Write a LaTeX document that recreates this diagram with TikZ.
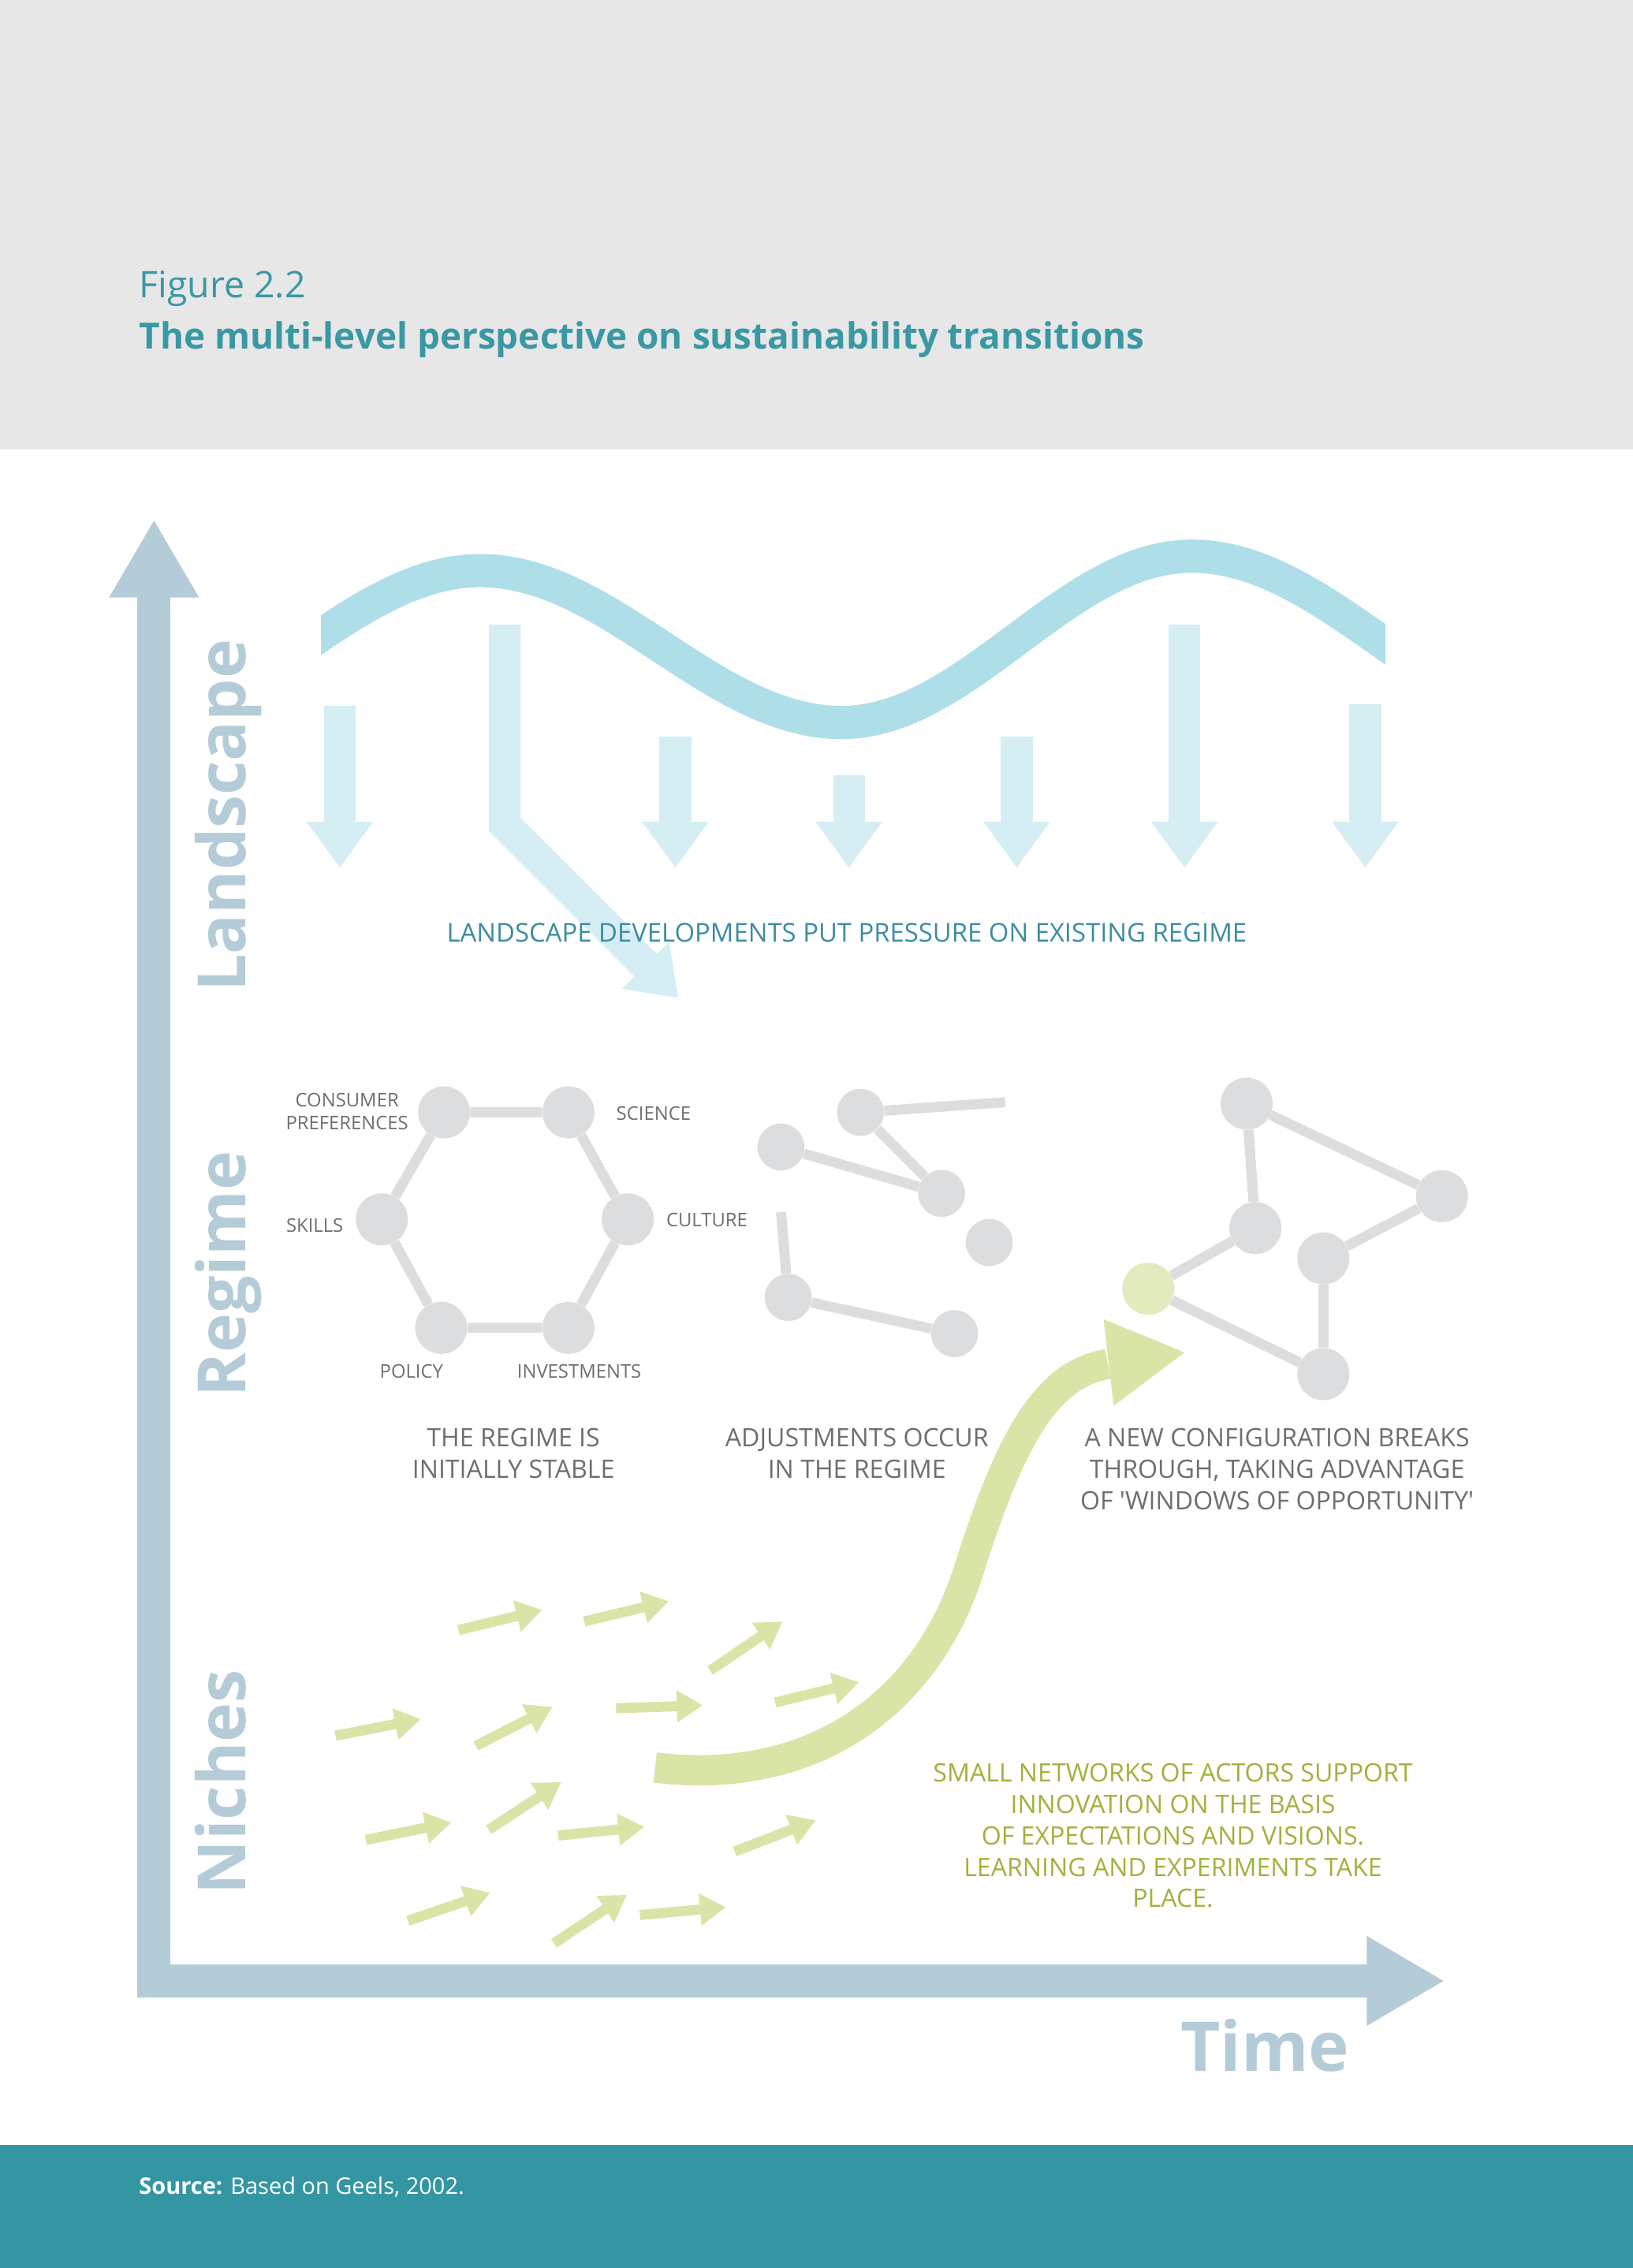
\documentclass[tikz,border=0pt]{standalone}
\usepackage{fontspec}
\setmainfont{Open Sans}
\usetikzlibrary{arrows.meta}
\definecolor{headgray}{HTML}{E7E7E7}
\definecolor{titleteal}{HTML}{3A98A4}
\definecolor{footteal}{HTML}{3396A2}
\definecolor{axisblue}{HTML}{B4CBD8}
\definecolor{wavecyan}{HTML}{AEDFE9}
\definecolor{pressblue}{HTML}{D5EEF4}
\definecolor{landtext}{HTML}{3B8DA0}
\definecolor{nodegray}{HTML}{DCDDDE}
\definecolor{textgray}{HTML}{6D6E71}
\definecolor{nichegreen}{HTML}{D9E5A6}
\definecolor{nichetext}{HTML}{9BB43C}
\definecolor{newgreen}{HTML}{E1EBBD}

\begin{document}
\begin{tikzpicture}[x=1pt,y=-1pt,
  axisline/.style={line width=23pt,draw=axisblue,-{Triangle[width=58pt,length=54pt]}},
  pressure/.style={line width=22pt,draw=pressblue,-{Triangle[width=44pt,length=32pt]}},
  nichearrow/.style={line width=7pt,draw=nichegreen,-{Triangle[width=21pt,length=18pt]}},
  actor/.style={circle,fill=nodegray,minimum size=36pt,inner sep=0pt},
  smallactor/.style={actor,minimum size=32.5pt},
  tie/.style={line width=7pt,draw=nodegray},
  tag/.style={font=\fontsize{13}{15.5}\selectfont,text=textgray,inner sep=0pt},
  captext/.style={font=\fontsize{17.5}{21.8}\selectfont,align=center,inner sep=0pt},
  levelname/.style={rotate=90,anchor=base west,font=\bfseries\fontsize{46}{46}\selectfont,text=axisblue,inner sep=0pt}]
\useasboundingbox (0,0) rectangle (1129.1,1568);

% header and footer bands
\fill[headgray] (0,0) rectangle (1129.1,311);
\fill[footteal] (0,1483) rectangle (1129.1,1568);
\node[anchor=base west,inner sep=0pt,text=titleteal,font=\fontsize{25.3}{25.3}\selectfont] (fignum) at (96,206) {Figure 2.2};
\node[anchor=base west,inner sep=0pt,text=titleteal,font=\bfseries\fontsize{25}{25}\selectfont] (title) at (96,241) {The multi-level perspective on sustainability transitions};
\node[anchor=base west,inner sep=0pt,text=white,font=\fontsize{15.8}{15.8}\selectfont] (source) at (96,1517) {\textbf{Source:} Based on Geels, 2002.};

% axes
\coordinate (origin) at (106.5,1381);
\coordinate (up) at (106.5,359);
\coordinate (left) at (95,1369.5);
\coordinate (right) at (999,1369.5);
\draw[axisline] (origin) -- (up);
\draw[axisline] (left) -- (right);
\node[levelname] (landscape) at (170,686) {Landscape};
\node[levelname] (regime) at (170,966) {Regime};
\node[levelname] (niches) at (170,1310) {Niches};
\node[anchor=base west,inner sep=0pt,text=axisblue,font=\bfseries\fontsize{47.5}{47.5}\selectfont] (time) at (816,1432) {Time};

% landscape wave
\begin{scope}
  \clip (222,300) rectangle (958,560);
  \draw[line width=23pt,wavecyan] (88,499.5) .. controls (176,499.5) and (244,394.5) .. (332,394.5)
    .. controls (422,394.5) and (492,499.5) .. (582,499.5)
    .. controls (669,499.5) and (737,384.5) .. (824,384.5)
    .. controls (917,384.5) and (989,499.5) .. (1082,499.5);
\end{scope}

% landscape pressure
\foreach \x/\top in {235/488,467/509,587/536,703/509,819/432,944/487}
  \draw[pressure] (\x,\top) -- (\x,600);
\draw[pressure] (349,432) -- (349,570) -- (469,690);
\node[captext,text=landtext,anchor=base,font=\fontsize{17.9}{21.8}\selectfont] (pressuretext) at (585.5,651) {LANDSCAPE DEVELOPMENTS PUT PRESSURE ON EXISTING REGIME};

% stable regime
\node[actor] (cp) at (307,769) {};
\node[actor] (sc) at (393,769) {};
\node[actor] (cu) at (434,843) {};
\node[actor] (in) at (393,918) {};
\node[actor] (po) at (305,918) {};
\node[actor] (sk) at (264,843) {};
\draw[tie] (cp) -- (sc) -- (cu) -- (in) -- (po) -- (sk) -- (cp);
\node[tag,align=center] (cplabel) at (240,768.5) {CONSUMER\\PREFERENCES};
\node[tag,anchor=base west] (sclabel) at (426,774.5) {SCIENCE};
\node[tag,anchor=base west] (culabel) at (460.5,848) {CULTURE};
\node[tag,anchor=base east] (sklabel) at (237.5,852) {SKILLS};
\node[tag,anchor=base] (polabel) at (284.5,953) {POLICY};
\node[tag,anchor=base] (inlabel) at (400.5,953) {INVESTMENTS};

% adjusting regime
\node[smallactor] (a1) at (540,793) {};
\node[smallactor] (a2) at (595,769) {};
\node[smallactor] (a3) at (651,825) {};
\node[smallactor] (a4) at (684,859) {};
\node[smallactor] (a5) at (545,897) {};
\node[smallactor] (a6) at (660,922) {};
\coordinate (a2end) at (695,762);
\coordinate (a5end) at (540,838);
\draw[tie] (a1) -- (a3);
\draw[tie] (a2) -- (a3);
\draw[tie] (a2) -- (a2end);
\draw[tie] (a5) -- (a6);
\draw[tie] (a5) -- (a5end);

% new configuration
\node[actor] (b1) at (862,763) {};
\node[actor] (b2) at (997,827) {};
\node[actor] (b3) at (868,849) {};
\node[actor] (b4) at (915,870) {};
\node[actor,fill=newgreen] (b5) at (794,891) {};
\node[actor] (b6) at (915,950) {};
\draw[tie] (b1) -- (b3);
\draw[tie] (b1) -- (b2);
\draw[tie] (b2) -- (b4);
\draw[tie] (b4) -- (b6);
\draw[tie] (b5) -- (b3);
\draw[tie] (b5) -- (b6);

\node[captext,text=textgray] (stable) at (355,1004.6) {THE REGIME IS\\INITIALLY STABLE};
\node[captext,text=textgray] (adjust) at (592.5,1004.6) {ADJUSTMENTS OCCUR\\IN THE REGIME};
\node[captext,text=textgray] (breaks) at (883,1015.5) {A NEW CONFIGURATION BREAKS\\THROUGH, TAKING ADVANTAGE\\OF \textquotesingle WINDOWS OF OPPORTUNITY\textquotesingle};

% niches
\foreach \a/\b/\c/\d in {317/1127/375/1113,404/1121/462.5/1107,491/1155/541/1121,
    536/1177/594/1163,232/1200/291/1188.5,329/1207/382/1180,426/1181/486/1179,
    253/1272/312/1260,338/1265/388/1232,386/1269/445.5/1263,508/1280/564/1258.5,
    282/1328/339/1308.5,383/1343.5/433.5/1310,442.5/1324/502/1318.5}
  \draw[nichearrow] (\a,\b) -- (\c,\d);
\coordinate (breakstart) at (453,1222);
\coordinate (breakend) at (766,943);
\draw[line width=21pt,nichegreen] (breakstart) .. controls (560,1235) and (640,1180) .. (670,1085)
  .. controls (700,990) and (725,950) .. (breakend);
\fill[nichegreen] (763,912) -- (819,935) -- (770,972) -- cycle;
\node[captext,text=nichetext] (nichetext) at (811,1269) {SMALL NETWORKS OF ACTORS SUPPORT\\INNOVATION ON THE BASIS\\OF EXPECTATIONS AND VISIONS.\\LEARNING AND EXPERIMENTS TAKE\\PLACE.};
\end{tikzpicture}
\end{document}
